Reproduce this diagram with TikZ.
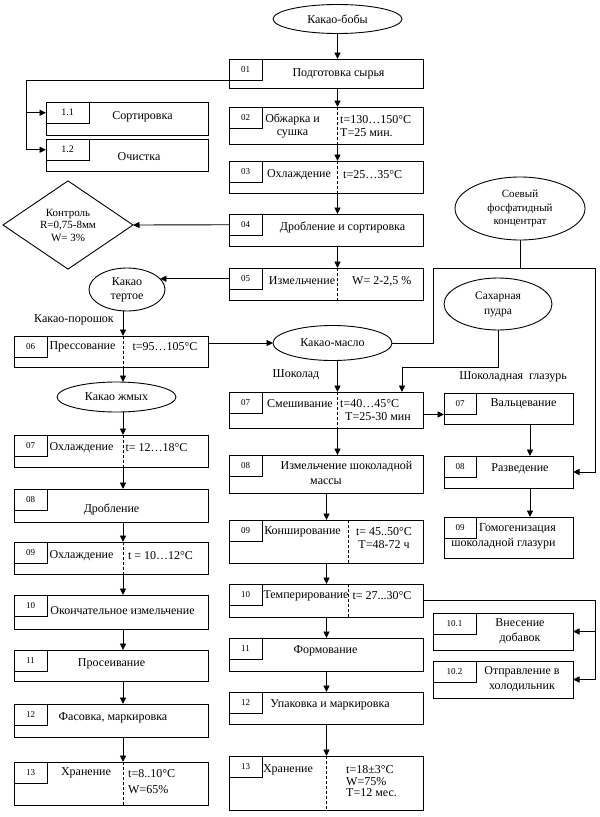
\documentclass[tikz,border=0pt]{standalone}
\usepackage{fontspec}
\setmainfont{Liberation Serif}
\usetikzlibrary{arrows.meta,shapes.geometric,calc}
\tikzset{
  ln/.style={line width=0.9pt},
  arr/.style={line width=0.9pt,-{Triangle[length=6.5pt,width=6pt]}},
  dsh/.style={line width=0.9pt,dash pattern=on 3pt off 2pt},
  boxs/.style={draw,line width=0.9pt,anchor=north west,inner sep=0pt,outer sep=0pt},
  numc/.style={draw,line width=0.9pt,anchor=north west,inner sep=0pt,outer sep=0pt,minimum height=21.5pt,font=\fontsize{9}{10}\selectfont},
  tx/.style={inner sep=0pt,font=\fontsize{12}{13}\selectfont},
  ell/.style={draw,ellipse,line width=0.9pt,inner sep=0pt,outer sep=0pt,align=center,font=\fontsize{12}{13}\selectfont},
}
\newcommand\mkbox[7]{%
  \node[boxs,minimum width={(#4-#2)*1pt},minimum height={(#5-#3)*1pt}] (#1) at (#2,#3) {};
  \node[numc,minimum width=#6pt] (#1n) at (#1.north west) {#7};
}
\begin{document}
\begin{tikzpicture}[x={(1pt,0)},y={(0,-1pt)}]
\fill[white] (0,0) rectangle (600,817);
\useasboundingbox (0,0) rectangle (600,817);

% helper x positions
\coordinate (mx) at (337.5,0);
\coordinate (m2x) at (326.5,0);
\coordinate (dx2) at (348,0);
\coordinate (lx) at (123,0);
\coordinate (rx) at (530,0);
\coordinate (bus) at (595,0);
\coordinate (lbus) at (26,0);
\coordinate (jx) at (433,268);
\coordinate (sx) at (402,367);

% middle column
\mkbox{b01}{229}{59}{423}{88}{33}{01}
\mkbox{b02}{229}{107}{423}{144}{33}{02}
\mkbox{b03}{229}{161}{423}{193}{33}{03}
\mkbox{b04}{229}{214}{423}{246}{33}{04}
\mkbox{b05}{229}{268}{423}{300}{33}{05}
\mkbox{m07}{229}{392}{423}{428}{33}{07}
\mkbox{m08}{229}{455}{423}{493}{33}{08}
\mkbox{m09}{229}{520}{423}{563}{33}{09}
\mkbox{m10}{229}{584}{423}{617}{33}{10}
\mkbox{m11}{229}{638}{423}{671}{33}{11}
\mkbox{m12}{229}{692}{423}{724}{33}{12}
\mkbox{m13}{229}{756}{423}{810}{33}{13}

% left column
\mkbox{s11}{46}{102}{208}{135}{43}{\fontsize{10}{11}\selectfont 1.1}
\mkbox{s12}{46}{139}{208}{171}{43}{\fontsize{10}{11}\selectfont 1.2}
\mkbox{l06}{14}{336}{208}{367}{33}{06}
\mkbox{l07}{14}{435}{208}{467}{33}{07}
\mkbox{l08}{14}{489}{208}{522}{33}{08}
\mkbox{l09}{14}{542}{208}{574}{33}{09}
\mkbox{l10}{14}{595}{208}{629}{33}{10}
\mkbox{l11}{14}{650}{208}{681}{33}{11}
\mkbox{l12}{14}{704}{208}{737}{33}{12}
\mkbox{l13}{14}{762}{208}{805}{33}{13}

% right column
\mkbox{r07}{444}{393}{573}{424}{32}{07}
\mkbox{r08}{444}{456}{573}{488}{32}{08}
\mkbox{r09}{444}{517}{573}{558}{32}{09}
\mkbox{a101}{433}{613}{573}{650}{43}{10.1}
\mkbox{a102}{433}{661}{573}{698}{43}{10.2}

% ellipses and diamond
\node[ell,minimum width=129pt,minimum height=29pt] (bobs) at (337.5,19) {Какао-бобы};
\node[ell,minimum width=76pt,minimum height=43pt,font=\fontsize{12}{14}\selectfont] (tertoe) at (127,289.5) {Какао\\тертое};
\node[ell,minimum width=119pt,minimum height=35pt] (maslo) at (332.5,343) {Какао-масло};
\node[ell,minimum width=119pt,minimum height=30pt] (zhmyh) at (116.5,397) {Какао жмых};
\node[ell,minimum width=108pt,minimum height=52pt,font=\fontsize{11.5}{15}\selectfont] (sugar) at (498,304) {Сахарная\\пудра};
\node[ell,minimum width=130pt,minimum height=63pt,font=\fontsize{11}{13.5}\selectfont] (soy) at (520,208.5) {Соевый\\фосфатидный\\концентрат};
\node[draw,diamond,line width=0.9pt,inner sep=0pt,outer sep=0pt,minimum width=130pt,minimum height=86pt,align=center,font=\fontsize{11}{12.5}\selectfont] (ctrl) at (68,225) {Контроль\\R=0,75-8мм\\W= 3\%};

% texts
\node[tx] (b01t) at (338.5,74) {Подготовка сырья};
\node[tx,align=center] (b02t) at (292.5,126) {Обжарка и\\сушка};
\node[tx,align=left,anchor=west] (b02p) at (340,126) {t=130…150°C\\T=25 мин.};
\node[tx] (b03t) at (299,175) {Охлаждение};
\node[tx,anchor=west] (b03p) at (343,175) {t=25…35°C};
\node[tx] (b04t) at (342.5,227) {Дробление и сортировка};
\node[tx] (b05t) at (302,281) {Измельчение};
\node[tx,anchor=west] (b05p) at (352,281) {W= 2-2,5 \%};
\node[tx] (l06t) at (82.5,347) {Прессование};
\node[tx] (l06p) at (165,347) {t=95…105°C};
\node[tx] (m07t) at (300,404) {Смешивание};
\node[tx,anchor=west] (m07p) at (340,404) {t=40…45°C};
\node[tx,anchor=west] (m07q) at (345,417) {T=25-30 мин};
\node[tx] (m08t) at (346.5,467) {Измельчение шоколадной};
\node[tx] (m08u) at (326,482) {массы};
\node[tx] (m09t) at (302.5,532) {Конширование};
\node[tx,align=center] (m09p) at (384,538) {t= 45..50°C\\T=48-72 ч};
\node[tx] (m10t) at (306,596) {Темперирование};
\node[tx] (m10p) at (382,596) {t= 27...30°C};
\node[tx] (m11t) at (325.5,651) {Формование};
\node[tx] (m12t) at (330,705) {Упаковка и маркировка};
\node[tx] (m13t) at (288,770) {Хранение};
\node[tx,align=left,anchor=west,font=\fontsize{12}{11.5}\selectfont] (m13p) at (346,781.5) {t=18±3°C\\W=75\%\\T=12 мес.};
\node[tx] (r07t) at (523.5,404) {Вальцевание};
\node[tx] (r08t) at (520,469) {Разведение};
\node[tx] (r09t) at (517.5,529) {Гомогенизация};
\node[tx] (r09u) at (503.5,544) {шоколадной глазури};
\node[tx,align=center,font=\fontsize{12}{15}\selectfont] (a101t) at (520,631.5) {Внесение\\добавок};
\node[tx,align=center,font=\fontsize{12}{15}\selectfont] (a102t) at (522,679.5) {Отправление в\\холодильник};
\node[tx] (s11t) at (142.5,117) {Сортировка};
\node[tx] (s12t) at (139,157) {Очистка};
\node[tx] (l07t) at (81.5,448) {Охлаждение};
\node[tx] (l07p) at (156.5,448) {t= 12…18°C};
\node[tx] (l08t) at (111.5,509) {Дробление};
\node[tx] (l09t) at (81.5,556) {Охлаждение};
\node[tx] (l09p) at (160.5,556) {t = 10…12°C};
\node[tx] (l10t) at (122.5,611) {Окончательное измельчение};
\node[tx] (l11t) at (111.5,664) {Просеивание};
\node[tx] (l12t) at (113,718) {Фасовка, маркировка};
\node[tx] (l13t) at (86,773) {Хранение};
\node[tx,align=left,anchor=west,font=\fontsize{12}{16}\selectfont] (l13p) at (128,781.5) {t=8..10°C\\W=65\%};
\node[tx] (lbl1) at (74,320) {Какао-порошок};
\node[tx] (lbl2) at (296,375) {Шоколад};
\node[tx] (lbl3) at (513,377) {Шоколадная\hspace{3pt} глазурь};

% dashed dividers
\draw[dsh] (b02.north -| mx) -- (b02.south -| mx);
\draw[dsh] (b03.north -| mx) -- (b03.south -| mx);
\draw[dsh] (b05.north -| mx) -- (b05.south -| mx);
\draw[dsh] (m07.north -| mx) -- (m07.south -| mx);
\draw[dsh] (m09.north -| dx2) -- (m09.south -| dx2);
\draw[dsh] (m10.north -| dx2) -- (m10.south -| dx2);
\draw[dsh] (m13.north -| m2x) -- (m13.south -| m2x);
\draw[dsh] (l06.north -| lx) -- (l06.south -| lx);
\draw[dsh] (l07.north -| lx) -- (l07.south -| lx);
\draw[dsh] (l09.north -| lx) -- (l09.south -| lx);
\draw[dsh] (l13.north -| lx) -- (l13.south -| lx);

% connectors: middle
\draw[arr] (bobs.south -| mx) -- (b01.north -| mx);
\draw[arr] (b01.south -| mx) -- (b02.north -| mx);
\draw[arr] (b02.south -| mx) -- (b03.north -| mx);
\draw[arr] (b03.south -| mx) -- (b04.north -| mx);
\draw[arr] (b04.south -| mx) -- (b05.north -| mx);
\draw[ln] (b01n.south -| b01.west) -| (lbus |- s12n.west);
\draw[arr] (lbus |- s11n.west) -- (s11n.west);
\draw[arr] (lbus |- s12n.west) -- (s12n.west);
\draw[arr] (b04n.west) -- (ctrl.east);
\draw[arr] (b05n.west) -- (b05n.west -| tertoe.18);
\draw[arr] (maslo.south -| mx) -- (m07.north -| mx);
\draw[arr] (m07.south -| mx) -- (m08.north -| mx);
\draw[arr] (m08.south -| m2x) -- (m09.north -| m2x);
\draw[arr] (m09.south -| m2x) -- (m10.north -| m2x);
\draw[arr] (m10.south -| m2x) -- (m11.north -| m2x);
\draw[arr] (m11.south -| m2x) -- (m12.north -| m2x);
\draw[arr] (m12.south -| m2x) -- (m13.north -| m2x);
% left
\draw[arr] (tertoe.south -| lx) -- (l06.north -| lx);
\draw[arr] (l06.east |- maslo.west) -- (maslo.west);
\draw[arr] (l06.south -| lx) -- (zhmyh.north -| lx);
\draw[arr] (zhmyh.south -| lx) -- (l07.north -| lx);
\draw[arr] (l07.south -| lx) -- (l08.north -| lx);
\draw[arr] (l08.south -| lx) -- (l09.north -| lx);
\draw[arr] (l09.south -| lx) -- (l10.north -| lx);
\draw[arr] (l10.south -| lx) -- (l11.north -| lx);
\draw[arr] (l11.south -| lx) -- (l12.north -| lx);
\draw[arr] (l12.south -| lx) -- (l13.north -| lx);
% right
\draw[arr] (maslo.east) -| (jx) -| (bus |- r08.east) -- (r08.east);
\draw[ln] (soy.south) -- (soy.south |- jx);
\draw[arr] (sugar.south) |- (sx) -- (sx |- m07.north);
\draw[arr] (m07.east |- r07n.south) -- (r07.west |- r07n.south);
\draw[arr] (r07.south -| rx) -- (r08.north -| rx);
\draw[arr] (r08.south -| rx) -- (r09.north -| rx);
\draw[ln] (m10.east) -| (bus |- a102.east);
\draw[arr] (bus |- a101.east) -- (a101.east);
\draw[arr] (bus |- a102.east) -- (a102.east);
\end{tikzpicture}
\end{document}
